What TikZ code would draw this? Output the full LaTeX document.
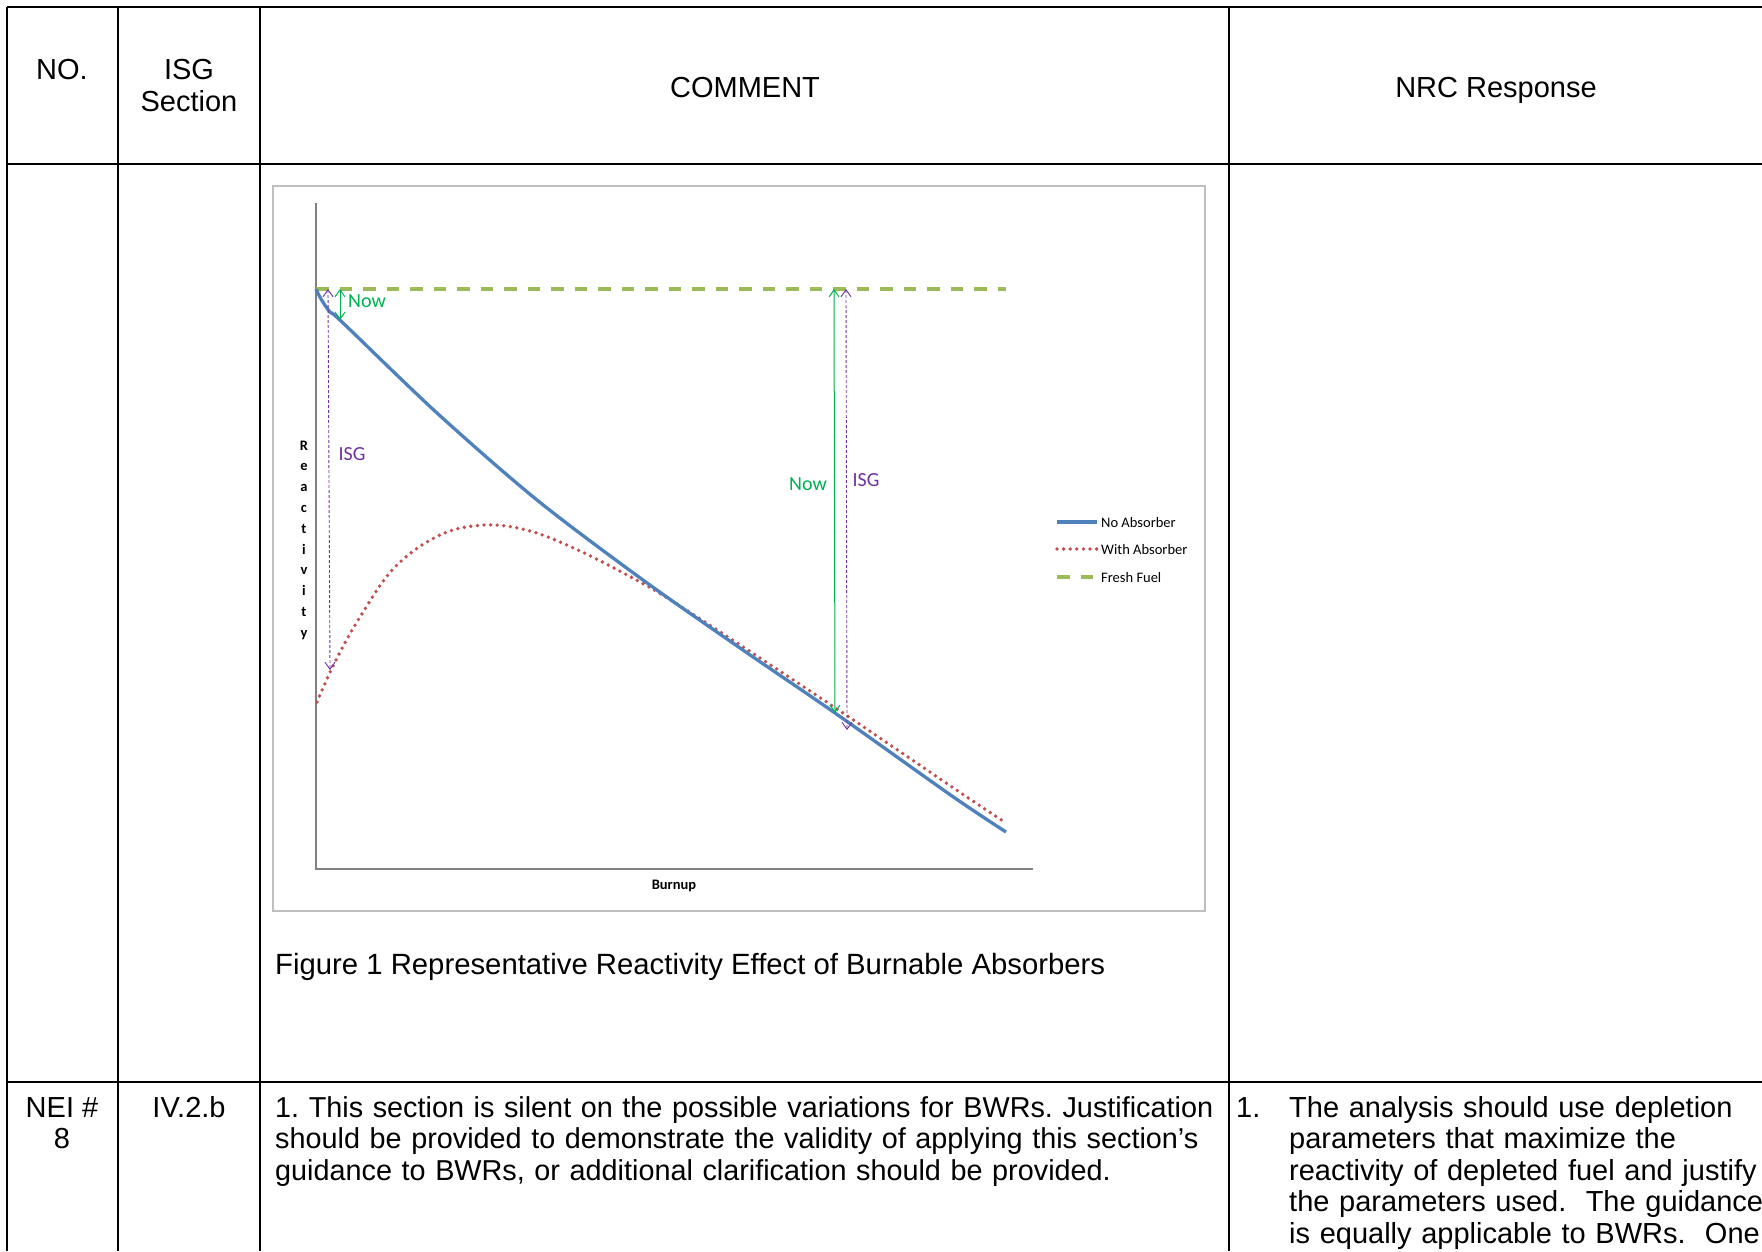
\documentclass[tikz,border=0pt]{standalone}
\usepackage{fontspec}
\setmainfont{Liberation Sans}
\newfontfamily\chartfont{Carlito}
\usepackage{tikz}
\usetikzlibrary{arrows.meta}
\frenchspacing
\definecolor{noabs}{HTML}{4F81BD}
\definecolor{withabs}{HTML}{C0504D}
\definecolor{fresh}{HTML}{9BBB59}
\definecolor{nowgreen}{HTML}{00B050}
\definecolor{isgpurple}{HTML}{7030A0}
\tikzstyle{rule} = [line width=2pt]
\tikzstyle{cell} = [font=\fontsize{29}{31.5}\selectfont, inner sep=0pt]
\tikzstyle{para} = [cell, anchor=base west, align=left]
\tikzstyle{barb} = [{Straight Barb[length=7pt,width=10pt]}-{Straight Barb[length=7pt,width=10pt]}]
\tikzstyle{nowarrow} = [barb, nowgreen, line width=1pt]
\tikzstyle{isgarrow} = [barb, isgpurple, line width=0.9pt, dash pattern=on 3pt off 2pt]
\tikzstyle{chartlabel} = [font=\chartfont\fontsize{20}{24}\selectfont, inner sep=0pt]
\tikzstyle{legendtext} = [font=\chartfont\fontsize{14.5}{17}\selectfont, anchor=base west, inner sep=0pt]
\tikzstyle{axislabel} = [font=\chartfont\bfseries\fontsize{14.5}{17}\selectfont, anchor=base, inner sep=0pt]
\tikzstyle{noline} = [noabs, line width=3.3pt]
\tikzstyle{withline} = [withabs, line width=3.8pt, line cap=round, dash pattern=on 0pt off 6.6pt]
\tikzstyle{freshline} = [fresh, line width=3.3pt, dash pattern=on 12.5pt off 11pt]

\begin{document}
\begin{tikzpicture}[x=1pt,y=-1pt]
			\useasboundingbox (0,0) rectangle (1762,1251);
			
			\draw[rule] (7,7) -- (1762,7);
			\draw[rule] (7,164) -- (1762,164);
			\draw[rule] (7,1082) -- (1762,1082);
			\foreach \cx in {7,118,260,1229}
				\draw[rule] (\cx,7) -- (\cx,1251);
			
			\node[cell, anchor=base](no) at (62,79){NO.};
			\node[cell, anchor=base](isg) at (189,79){ISG};
			\node[cell, anchor=base](sec) at (189,111){Section};
			\node[cell, anchor=base](comment) at (745,97){COMMENT};
			\node[cell, anchor=base](nrc) at (1496,97){NRC Response};
			
			\node[cell, anchor=base](nei) at (62,1117){NEI \#};
			\node[cell, anchor=base](eight) at (62,1148.5){8};
			\node[cell, anchor=base](part) at (189,1117){IV.2.b};
			\node[para, text width=960pt, font=\fontsize{28.8}{31.5}\selectfont](text) at (275,1117){1. This section is silent on the possible variations for BWRs. Justification\\should be provided to demonstrate the validity of applying this section’s\\guidance to BWRs, or additional clarification should be provided.};
			\node[cell, anchor=base west](num) at (1236,1117){1.};
			\node[para, text width=480pt](resp) at (1289,1117){The analysis should use depletion\\parameters that maximize the\\reactivity of depleted fuel and justify\\the parameters used.\ \ The guidance\\is equally applicable to BWRs.\ \ One};
			
			\node[cell, anchor=base west, font=\fontsize{29.3}{31.5}\selectfont](caption) at (275,974){Figure 1 Representative Reactivity Effect of Burnable Absorbers};
			
			\draw[black!25, line width=1.3pt] (273,186) rectangle (1205,911);
			\draw[black!50, line width=1.8pt] (316,203) -- (316,869) -- (1033,869);
			\node[axislabel](burnup) at (674,889){Burnup};
			\foreach \ch [count=\i from 0] in {R,e,a,c,t,i,v,i,t,y}
				\node[axislabel](r\i) at (304,450+20.8*\i){\ch};
			
			\draw[freshline] (316,289) -- (1006,289);
			\draw[withline] plot[smooth, tension=0.6] coordinates {(317,702) (335,662) (360,617) (395,567) (440,535) (485,525) (530,531) (580,551) (640,582) (680,606) (760,658) (846,715) (952,787) (1006,823)};
			\draw[noline] plot[smooth, tension=0.5] coordinates {(316,289) (321,299) (330,312) (342,322) (437,413) (537,500) (643,580) (740,648) (835,713) (952,796) (1006,832)};
			
			\coordinate (ltop) at (340,289);
			\coordinate (lbot) at (340,320);
			\coordinate (litop) at (328,289);
			\coordinate (libot) at (330,670);
			\coordinate (rtop) at (834,289);
			\coordinate (rbot) at (835,713);
			\coordinate (ritop) at (846,289);
			\coordinate (ribot) at (847,730);
			\draw[nowarrow] (ltop) -- (lbot);
			\draw[isgarrow] (litop) -- (libot);
			\draw[nowarrow] (rtop) -- (rbot);
			\draw[isgarrow] (ritop) -- (ribot);
			\node[chartlabel, nowgreen](nowl) at (367,301){Now};
			\node[chartlabel, isgpurple](isgl) at (352,454){ISG};
			\node[chartlabel, nowgreen](nowr) at (808,484){Now};
			\node[chartlabel, isgpurple](isgr) at (866,480){ISG};
			
			\draw[noline] (1057,522) -- (1097,522);
			\draw[withline] (1057,549) -- (1097,549);
			\draw[freshline] (1057,577) -- (1097,577);
			\node[legendtext](lno) at (1101,527){No Absorber};
			\node[legendtext](lwith) at (1101,554){With Absorber};
			\node[legendtext](lfresh) at (1101,582){Fresh Fuel};
		\end{tikzpicture}
\end{document}
